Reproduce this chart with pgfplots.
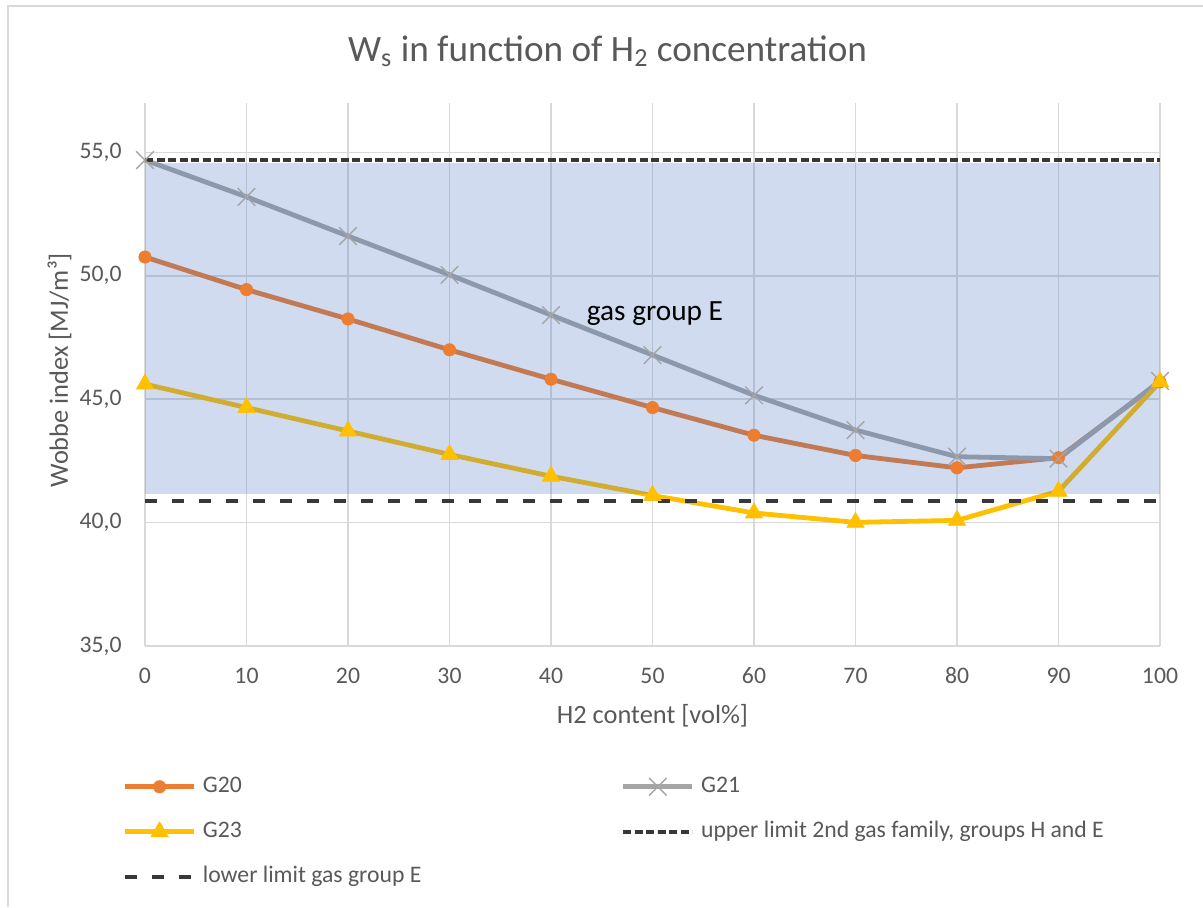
\documentclass[border=0pt]{standalone}
\usepackage{fontspec}
\setmainfont{Carlito}
\usepackage{pgfplots}
\pgfplotsset{compat=1.18}
\definecolor{cG20}{RGB}{237,125,49}
\definecolor{cG21}{RGB}{165,165,165}
\definecolor{cG23}{RGB}{255,192,0}
\definecolor{cshade}{RGB}{68,114,196}
\definecolor{cgrid}{RGB}{217,217,217}
\definecolor{ctext}{RGB}{89,89,89}
\definecolor{climit}{RGB}{56,56,56}
\begin{document}
\begin{tikzpicture}
\useasboundingbox (0,0) rectangle (601.5pt,-453.5pt);
\fill[white] (0,0) rectangle (601.5pt,-453.5pt);
\draw[cgrid, line width=1pt] (4pt,-453.5pt) -- (4pt,-3pt) -- (601.5pt,-3pt);
\begin{axis}[
  at={(72.5pt,-323pt)}, anchor=south west,
  scale only axis, width=507.5pt, height=271.5pt,
  xmin=0, xmax=100, ymin=35, ymax=57,
  xtick={0,10,...,100}, ytick={35,40,45,50,55},
  grid=major, major grid style={cgrid, line width=0.8pt},
  axis line style={draw=none},
  major tick length=0pt,
  clip=false,
  /pgf/number format/assume math mode=true,
  tick label style={font=\fontsize{11.85pt}{14pt}\selectfont, text=ctext, inner sep=0pt},
  xticklabel style={anchor=base, yshift=-18.5pt},
  yticklabel style={anchor=base east, xshift=-11.5pt, yshift=-3pt, /pgf/number format/.cd, fixed, fixed zerofill, precision=1, use comma},
  xlabel={H2 content [vol\%]},
  ylabel={Wobbe index [MJ/m³]},
  every axis x label/.style={at={(axis description cs:0.5,-0.14236)}, anchor=base, inner sep=0pt, font=\fontsize{13.2pt}{16pt}\selectfont, text=ctext},
  every axis y label/.style={at={(axis description cs:-0.07586,0.508)}, rotate=90, anchor=base, inner sep=0pt, font=\fontsize{13.2pt}{16pt}\selectfont, text=ctext},
  legend columns=2,
  legend cell align=left,
  legend style={at={(axis description cs:-0.02197,-0.2389)}, anchor=north west, draw=none, fill=none, inner sep=0pt, outer sep=0pt, column sep=3.2pt, row sep=11.5pt, font=\fontsize{11.85pt}{14pt}\selectfont, text=ctext, nodes={inner sep=0pt, text height=8.5pt, text depth=2.5pt}},
  legend image code/.code={\draw[mark repeat=2,mark phase=2,#1] plot coordinates {(0pt,0pt) (17.25pt,0pt) (34.5pt,0pt)};},
]
\addplot[cG20, line width=2.4pt, mark=*, mark size=3.1pt, mark options={solid, line width=0.3pt}] coordinates {
 (0,50.76) (10,49.44) (20,48.25) (30,47.0) (40,45.81) (50,44.66) (60,43.54) (70,42.72) (80,42.22) (90,42.63) (100,45.7)};
\addlegendentry{\makebox[205.8pt][l]{G20}}
\addplot[cG21, line width=2.4pt, mark=x, mark size=6.2pt, mark options={solid, line width=0.7pt}] coordinates {
 (0,54.69) (10,53.2) (20,51.61) (30,50.04) (40,48.41) (50,46.79) (60,45.16) (70,43.75) (80,42.67) (90,42.59) (100,45.74)};
\addlegendentry{G21}
\addplot[cG23, line width=2.4pt, mark=triangle*, mark size=5pt, mark options={solid, line width=0.3pt}] coordinates {
 (0,45.61) (10,44.66) (20,43.71) (30,42.76) (40,41.88) (50,41.1) (60,40.39) (70,40.01) (80,40.09) (90,41.27) (100,45.7)};
\addlegendentry{\makebox[205.8pt][l]{G23}}
\addplot[draw=none, fill=cshade, fill opacity=0.25, forget plot] coordinates {(0,41.14) (100,41.14) (100,54.55) (0,54.55)} -- cycle;
\addplot[climit, line width=2pt, dash pattern=on 4pt off 1.75pt] coordinates {(0,54.69) (100,54.69)};
\addlegendentry{upper limit 2nd gas family, groups H and E}
\addplot[climit, line width=2pt, dash pattern=on 6pt off 7.5pt] coordinates {(0,40.89) (100,40.89)};
\addlegendentry{\makebox[205.8pt][l]{lower limit gas group E}}
\node[anchor=base west, font=\fontsize{14.65pt}{17pt}\selectfont, inner sep=0pt, text=black] at (axis cs:43.5,48.18) {gas group E};
\end{axis}
\node[anchor=base, font=\fontsize{18.6pt}{22pt}\selectfont, text=ctext, inner sep=0pt] at (303.75pt,-30.85pt) {W\textsubscript{s} in function of H\textsubscript{2} concentration};
\end{tikzpicture}
\end{document}
